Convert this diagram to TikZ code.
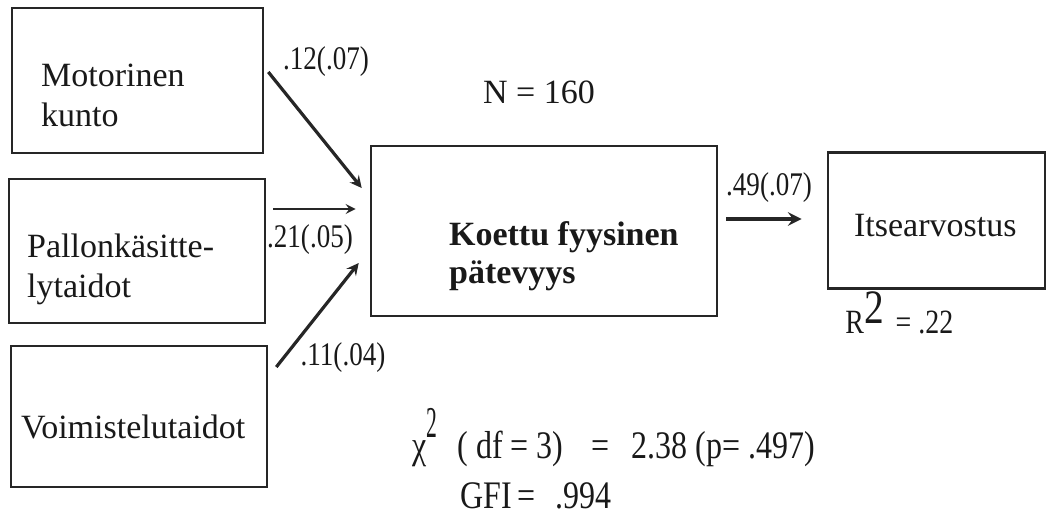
\documentclass[tikz,border=0pt]{standalone}
\usepackage{fontspec}
\usepackage{graphicx}
\setmainfont{Liberation Serif}
\newfontfamily\condfont[FakeStretch=0.82]{Liberation Serif}
\begin{document}
\begin{tikzpicture}[x=0.5pt, y=-0.5pt, >=stealth,
    box/.style={draw=black!85, line width=1.3pt, inner sep=0pt},
    txt/.style={anchor=west, align=left, inner sep=0pt, text=black!90, font=\fontsize{17}{20}\selectfont},
    coef/.style={inner sep=0pt, text=black!90, font=\condfont\fontsize{16.5}{18}\selectfont},
    stat/.style={anchor=base west, inner sep=0pt, text=black!90, font=\condfont\fontsize{19.5}{22}\selectfont},
    arr/.style={->, draw=black!85, line width=1.6pt}
]
\useasboundingbox (0,0) rectangle (1047,515);

% boxes
\node[box, minimum width=125.5pt, minimum height=72.5pt] (mot) at (137.5,80.5) {};
\node[box, minimum width=128pt, minimum height=72pt] (pal) at (137,251) {};
\node[box, minimum width=128pt, minimum height=70.5pt] (voi) at (139,416.5) {};
\node[box, minimum width=173pt, minimum height=85pt] (kfp) at (544,231) {};
\node[box, minimum width=108.5pt, minimum height=68pt] (its) at (936.5,220.5) {};

% box texts
\node[txt] (motT) at ([shift={(30,15)}]mot.west) {Motorinen\\kunto};
\node[txt] (palT) at ([shift={(19,18.5)}]pal.west) {Pallonkäsitte-\\lytaidot};
\node[txt] (voiT) at ([shift={(11,10)}]voi.west) {Voimistelutaidot};
\node[txt, font=\bfseries\fontsize{17}{19}\selectfont] (kfpT) at ([shift={(79,25)}]kfp.west) {Koettu fyysinen\\pätevyys};
\node[txt] (itsT) at ([shift={(27,5)}]its.west) {Itsearvostus};

% paths
\draw[arr] ([shift={(4,-8.5)}]mot.east) -- ([shift={(-8,-43)}]kfp.west);
\draw[arr, line width=1.2pt] ([shift={(7,-42)}]pal.east) -- ([shift={(-14,-22)}]kfp.west);
\draw[arr] ([shift={(8,-49.5)}]voi.east) -- ([shift={(-11,32)}]kfp.west);
\draw[arr, line width=2pt] ([shift={(8,-12)}]kfp.east) -- ([shift={(-25,-1.5)}]its.west);

% coefficients
\node[coef] (c1) at (326,62) {.12(.07)};
\node[coef] (c2) at (310,240) {.21(.05)};
\node[coef] (c3) at (343,358) {.11(.04)};
\node[coef] (c4) at (769,188) {.49(.07)};

% fit
\node[inner sep=0pt, text=black!90, font=\fontsize{17}{20}\selectfont] (n) at (539,92) {N = 160};
\node[stat] (r2) at (845,333) {\fontsize{17}{20}\selectfont R\raisebox{5pt}{\fontsize{24}{24}\selectfont 2}\hspace{6pt}= .22};
\node[stat] (chi) at (412,458) {χ\raisebox{10.5pt}{\scalebox{0.6}[1]{\fontsize{22}{22}\selectfont 2}}\hspace{10pt}( df = 3)\hspace{14pt}=\hspace{11pt}2.38 (p= .497)};
\node[stat] (gfi) at (460,508) {GFI\hspace{3pt}=\hspace{10pt}.994};
\end{tikzpicture}
\end{document}
